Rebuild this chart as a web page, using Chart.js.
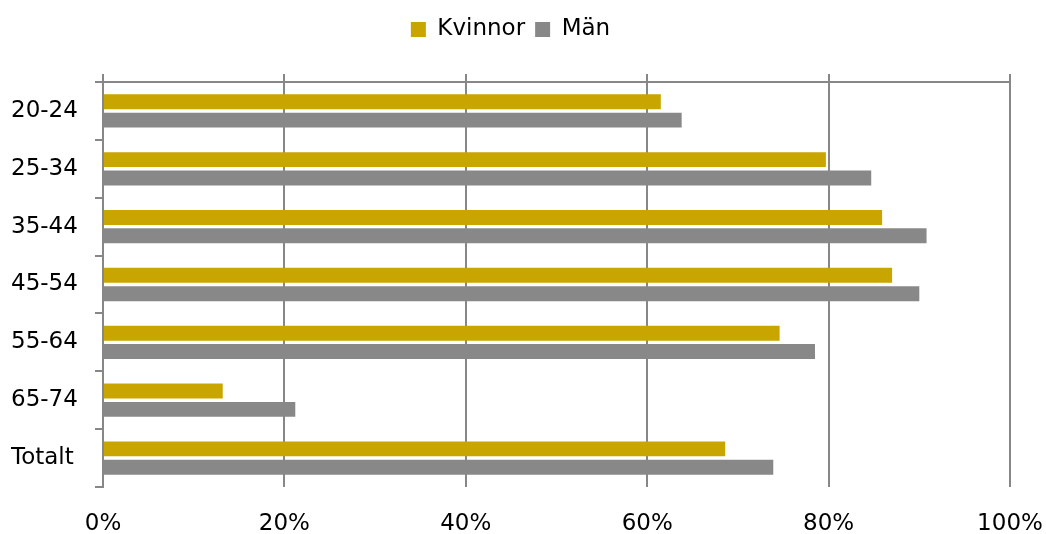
<!DOCTYPE html>
<html lang="sv">
<head>
  <meta charset="UTF-8">
  <title>Kvinnor och män</title>
  <script src="https://cdn.jsdelivr.net/npm/chart.js@4.4.1/dist/chart.umd.min.js"></script>
  <style>
    body { margin: 0; background: #fff; }
    .wrap { width: 1046px; height: 534px; }
  </style>
</head>
<body>
  <div class="wrap"><canvas class="diagram"></canvas></div>

  <script>
    // värden (procent)
    const ages = ['20-24', '25-34', '35-44', '45-54', '55-64', '65-74', 'Totalt'];
    const kvinnor = [61.5, 79.7, 85.9, 87.0, 74.6, 13.2, 68.6];
    const man = [63.8, 84.7, 90.8, 90.0, 78.5, 21.2, 73.9];
    const xTicks = [0, 20, 40, 60, 80, 100];

    const font = { family: 'DejaVu Sans', size: 23 };
    const gray = '#878787';

    const ctx = document.querySelector('.diagram').getContext('2d');
    const myChart = new Chart(ctx, {
      type: 'bar',
      data: {
        labels: ages,
        datasets: [{
          label: 'Kvinnor',
          data: kvinnor,
          backgroundColor: '#c9a500',
          borderWidth: 0
        }, {
          label: 'Män',
          data: man,
          backgroundColor: '#888888',
          borderWidth: 0
        }]
      },
      options: {
        indexAxis: 'y',
        responsive: true,
        maintainAspectRatio: false,
        animation: false,
        barPercentage: 0.815,
        categoryPercentage: 0.634,
        layout: { padding: { top: 8, left: 11, right: 36, bottom: 0 } },
        plugins: {
          legend: {
            position: 'top',
            labels: {
              font: font,
              color: '#000',
              boxWidth: 15,
              boxHeight: 15,
              padding: 10
            }
          },
          tooltip: { enabled: false }
        },
        scales: {
          x: {
            type: 'linear',
            position: 'top',
            min: 0,
            max: 100,
            ticks: { display: false, stepSize: 20 },
            grid: { color: gray, lineWidth: 2, tickLength: 8 },
            border: { color: gray, width: 2 },
            afterFit: s => { s.height = 31; s.paddingLeft = 0; s.paddingRight = 0; }
          },
          x2: {
            type: 'linear',
            position: 'bottom',
            min: 0,
            max: 100,
            afterBuildTicks: s => { s.ticks = xTicks.map(v => ({ value: v })); },
            ticks: { font: font, color: '#000', padding: 23, callback: v => v + '%' },
            grid: { display: false, drawTicks: false },
            border: { display: false },
            afterFit: s => { s.height = 47; s.paddingLeft = 0; s.paddingRight = 0; }
          },
          y: {
            grid: { drawOnChartArea: false, tickLength: 8, color: gray, lineWidth: 2, offset: true },
            border: { color: gray, width: 2 },
            ticks: { font: font, color: '#000', crossAlign: 'far', padding: 0 },
            afterFit: s => { s.width = 92; }
          }
        }
      }
    });
  </script>
</body>
</html>
